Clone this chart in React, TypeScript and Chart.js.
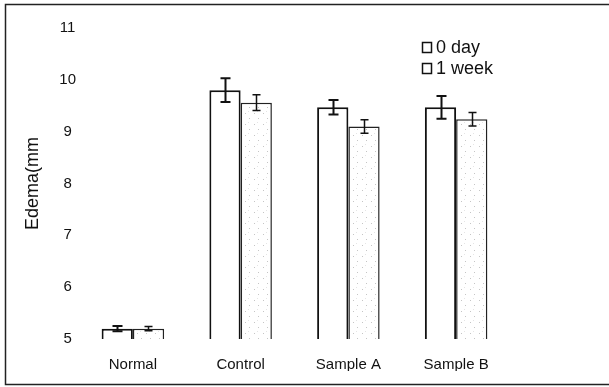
import React, { useEffect, useRef } from "react";
import { Chart, registerables } from "chart.js";

Chart.register(...registerables);

const categories = ["Normal", "Control", "Sample A", "Sample B"];
const seriesLabels = ["0 day", "1 week"];
const day0 = [5.2, 9.8, 9.47, 9.47];
const day0Err = [0.05, 0.23, 0.14, 0.22];
const week1 = [5.2, 9.56, 9.1, 9.24];
const week1Err = [0.04, 0.15, 0.13, 0.13];
const yTitle = "Edema(mm";

const FONT = "'Liberation Sans', Arial, sans-serif";

function makePattern(): CanvasPattern | string {
  const c = document.createElement("canvas");
  c.width = 9;
  c.height = 11;
  const g = c.getContext("2d");
  if (!g) return "#fafafa";
  g.fillStyle = "#ffffff";
  g.fillRect(0, 0, 9, 11);
  g.fillStyle = "rgba(150,150,150,0.55)";
  g.fillRect(2, 3, 1, 1);
  g.fillRect(6, 8, 1, 1);
  g.fillStyle = "rgba(190,190,190,0.4)";
  g.fillRect(5, 1, 1, 1);
  const p = g.createPattern(c, "repeat");
  return p || "#fafafa";
}

const errorBarPlugin = {
  id: "errorBars",
  afterDatasetsDraw(chart: any) {
    const ctx = chart.ctx;
    const y = chart.scales.y;
    const errs = [day0Err, week1Err];
    chart.data.datasets.forEach((ds: any, di: number) => {
      const meta = chart.getDatasetMeta(di);
      meta.data.forEach((bar: any, i: number) => {
        const v = ds.data[i];
        const e = errs[di][i];
        const top = y.getPixelForValue(v + e);
        const bot = y.getPixelForValue(v - e);
        const x = Math.round(bar.x) + 0.5;
        const cap = di === 0 ? 5 : 4;
        ctx.save();
        ctx.strokeStyle = "#111";
        ctx.lineWidth = di === 0 ? 2 : 1.5;
        ctx.beginPath();
        ctx.moveTo(x, top);
        ctx.lineTo(x, bot);
        ctx.moveTo(x - cap, top);
        ctx.lineTo(x + cap, top);
        ctx.moveTo(x - cap, bot);
        ctx.lineTo(x + cap, bot);
        ctx.stroke();
        ctx.restore();
      });
    });
  },
};

const framePlugin = {
  id: "frame",
  afterDraw(chart: any) {
    const ctx = chart.ctx;
    const w = chart.width;
    ctx.save();
    ctx.strokeStyle = "#222";
    ctx.lineWidth = 1.5;
    ctx.beginPath();
    ctx.moveTo(w, 4.5);
    ctx.lineTo(5.5, 4.5);
    ctx.lineTo(5.5, 384.5);
    ctx.lineTo(w, 384.5);
    ctx.stroke();
    ctx.restore();
  },
};

const legendPlugin = {
  id: "customLegend",
  afterDraw(chart: any) {
    const ctx = chart.ctx;
    const area = chart.chartArea;
    const x0 = area.right - 88;
    const y0 = area.top + 19;
    ctx.save();
    ctx.font = `18px ${FONT}`;
    ctx.textBaseline = "middle";
    ctx.textAlign = "left";
    chart.data.datasets.forEach((ds: any, i: number) => {
      const cy = y0 + i * 21;
      ctx.fillStyle = "#fff";
      ctx.fillRect(x0, cy - 5, 10, 10);
      ctx.strokeStyle = "#111";
      ctx.lineWidth = 1.5;
      ctx.strokeRect(x0 + 0.5, cy - 4.5, 9, 10);
      ctx.fillStyle = "#111";
      ctx.fillText(ds.label, x0 + 14, cy + 1);
    });
    ctx.restore();
  },
};

export default function App() {
  const ref = useRef<HTMLCanvasElement | null>(null);

  useEffect(() => {
    if (!ref.current) return;
    const pattern = makePattern();
    const chart = new Chart(ref.current, {
      type: "bar",
      data: {
        labels: categories,
        datasets: [
          {
            label: seriesLabels[0],
            data: day0,
            backgroundColor: "#ffffff",
            borderColor: "#111",
            borderWidth: 2,
            borderSkipped: false,
            barPercentage: 1,
            categoryPercentage: 0.58,
          },
          {
            label: seriesLabels[1],
            data: week1,
            backgroundColor: pattern as any,
            borderColor: "#222",
            borderWidth: 1.5,
            borderSkipped: false,
            barPercentage: 1,
            categoryPercentage: 0.58,
          },
        ],
      },
      options: {
        responsive: false,
        animation: false,
        devicePixelRatio: 1,
        layout: { padding: { left: 18, right: 99, top: 28, bottom: 16 } },
        plugins: {
          legend: { display: false },
          tooltip: { enabled: false },
        },
        scales: {
          x: {
            grid: { display: false, drawTicks: false },
            border: { display: false },
            ticks: {
              color: "#111",
              padding: 17,
              font: { family: FONT, size: 15 },
            },
            afterFit(scale: any) {
              scale.height = 32;
            },
          },
          y: {
            min: 5,
            max: 11,
            grid: { display: false, drawTicks: false },
            border: { display: false },
            ticks: {
              stepSize: 1,
              color: "#111",
              padding: 3,
              crossAlign: "center",
              font: { family: FONT, size: 15 },
            },
            title: {
              display: true,
              text: yTitle,
              color: "#111",
              font: { family: FONT, size: 18 },
              padding: { top: 4, bottom: 4 },
            },
            afterFit(scale: any) {
              scale.width = 61;
            },
          },
        },
      },
      plugins: [errorBarPlugin, legendPlugin, framePlugin],
    });
    return () => chart.destroy();
  }, []);

  return (
    <div style={{ position: "fixed", left: 0, top: 0, width: 609, height: 387, background: "#fff" }}>
      <canvas ref={ref} width={609} height={387} style={{ display: "block", width: 609, height: 387 }} />
    </div>
  );
}
